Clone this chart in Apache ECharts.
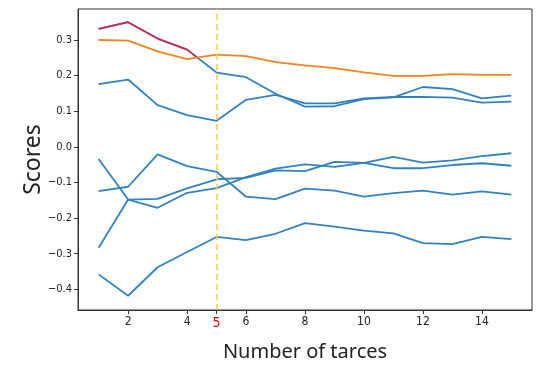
<!DOCTYPE html>
<html><head><meta charset="utf-8">
<script src="https://cdn.jsdelivr.net/npm/echarts@6/dist/echarts.min.js"></script>
<style>html,body{margin:0;padding:0;background:#fff}#c{width:543px;height:367px}</style>
</head><body><div id="c"></div>
<script>
const xs = [1,2,3,4,5,6,7,8,9,10,11,12,13,14,15];
const orangeLine = [0.300,0.298,0.268,0.246,0.259,0.2545,0.238,0.229,0.221,0.209,0.199,0.199,0.204,0.202,0.202];
const lineA = [0.331,0.350,0.304,0.273,0.2085,0.1956,0.149,0.113,0.114,0.134,0.139,0.168,0.162,0.136,0.144];
const lineB = [0.176,0.189,0.117,0.089,0.073,0.132,0.146,0.122,0.122,0.136,0.140,0.1405,0.138,0.124,0.127];
const lineC = [-0.034,-0.148,-0.171,-0.129,-0.116,-0.085,-0.061,-0.049,-0.056,-0.045,-0.028,-0.044,-0.038,-0.026,-0.018];
const lineD = [-0.124,-0.112,-0.021,-0.054,-0.070,-0.140,-0.147,-0.117,-0.123,-0.140,-0.130,-0.123,-0.134,-0.125,-0.134];
const lineE = [-0.283,-0.148,-0.146,-0.1165,-0.091,-0.087,-0.066,-0.068,-0.042,-0.045,-0.060,-0.060,-0.051,-0.046,-0.053];
const lineF = [-0.358,-0.418,-0.338,-0.295,-0.253,-0.262,-0.244,-0.214,-0.224,-0.235,-0.243,-0.270,-0.273,-0.253,-0.259];
const xTicks = [2,4,5,6,8,10,12,14];
const yTicks = [-0.4,-0.3,-0.2,-0.1,0.0,0.1,0.2,0.3];
const markX = 5;
const xLabel = 'Number of tarces';
const yLabel = 'Scores';

const BLUE = '#3282bf', ORANGE = '#f0841f', RED = '#c9304f', GOLD = '#ffcc33';
const pairs = arr => xs.map((x,i)=>[x,arr[i]]);

// red highlight: part of lineA lying above the orange line at the start
const red = [];
for (let i=0;i<xs.length;i++){
  if (lineA[i] > orangeLine[i]) { red.push([xs[i], lineA[i]]); }
  else {
    if (i>0){
      const d0 = lineA[i-1]-orangeLine[i-1], d1 = lineA[i]-orangeLine[i];
      const t = d0/(d0-d1);
      red.push([xs[i-1]+t*(xs[i]-xs[i-1]), lineA[i-1]+t*(lineA[i]-lineA[i-1])]);
    }
    break;
  }
}

const FONT = 'DejaVu Sans Condensed, DejaVu Sans, sans-serif';
const blueSeries = [lineA,lineB,lineC,lineD,lineE,lineF].map(a=>({
  type:'line', data:pairs(a), symbol:'none', lineStyle:{color:BLUE,width:1.8}, z:2, silent:true
}));

const chart = echarts.init(document.getElementById('c'), null, {renderer:'canvas'});
chart.setOption({
  animation:false,
  grid:{left:78,right:11,top:9,bottom:51,show:true,borderColor:'#333',borderWidth:1,backgroundColor:'transparent'},
  xAxis:{
    type:'value', min:0.3, max:15.7,
    axisLine:{show:true,onZero:false,lineStyle:{color:'#333'}},
    axisTick:{show:true,length:4,customValues:xTicks,lineStyle:{color:'#333'}},
    axisLabel:{customValues:xTicks,fontSize:12,fontFamily:FONT,color:'#222',margin:6,
      formatter:v=> v===markX ? '{r|'+v+'}' : String(v),
      rich:{r:{color:'#e8000b',fontSize:14,fontFamily:FONT}}},
    splitLine:{show:false},
    name:xLabel, nameLocation:'middle', nameGap:32, nameMoveOverlap:false,
    nameTextStyle:{fontSize:20,fontFamily:'Noto Sans, sans-serif',color:'#222'}
  },
  yAxis:{
    type:'value', min:-0.458, max:0.387,
    axisLine:{show:true,onZero:false,lineStyle:{color:'#333'}},
    axisTick:{show:true,length:4,customValues:yTicks,lineStyle:{color:'#333'}},
    axisLabel:{customValues:yTicks,fontSize:11,fontFamily:FONT,color:'#222',margin:6,
      formatter:v=>{const s=Math.abs(v).toFixed(1); return (v< -1e-9?'\u2212':'')+s;}},
    splitLine:{show:false},
    name:yLabel, nameLocation:'middle', nameGap:33, nameMoveOverlap:false,
    nameTextStyle:{fontSize:23,fontFamily:'Noto Sans, sans-serif',color:'#222'}
  },
  series:[
    ...blueSeries,
    {type:'line',data:red,symbol:'none',lineStyle:{color:RED,width:1.8},z:3,silent:true},
    {type:'line',data:pairs(orangeLine),symbol:'none',lineStyle:{color:ORANGE,width:1.8},z:4,silent:true,
      markLine:{silent:true,symbol:'none',label:{show:false},
        lineStyle:{color:GOLD,type:[6,4],width:1.5},data:[{xAxis:markX}]}}
  ]
});
</script></body></html>
